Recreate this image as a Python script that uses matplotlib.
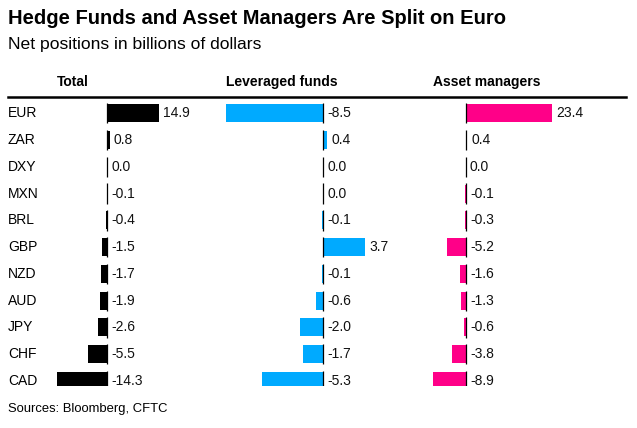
import matplotlib
matplotlib.use("Agg")
import matplotlib.pyplot as plt

plt.rcParams["font.family"] = ["Liberation Sans", "DejaVu Sans"]

# data
currencies = ["EUR", "ZAR", "DXY", "MXN", "BRL", "GBP", "NZD", "AUD", "JPY", "CHF", "CAD"]
total = [14.9, 0.8, 0.0, -0.1, -0.4, -1.5, -1.7, -1.9, -2.6, -5.5, -14.3]
leveraged = [-8.5, 0.4, 0.0, 0.0, -0.1, 3.7, -0.1, -0.6, -2.0, -1.7, -5.3]
asset_mgrs = [23.4, 0.4, 0.0, -0.1, -0.3, -5.2, -1.6, -1.3, -0.6, -3.8, -8.9]

W, H = 637, 428
fig = plt.figure(figsize=(W / 100, H / 100), dpi=100)

row_px = 26.77
first_center = 113.3
top_px = first_center - 0.5 * row_px
bottom_px = 386
ybottom = (bottom_px - first_center) / row_px

# panels: (title, values, colour, px of min bar end, px of max bar end, right edge px)
panels = [
    ("Total", total, "#000000", 57, 159, 215),
    ("Leveraged funds", leveraged, "#00aaff", 226, 365, 420),
    ("Asset managers", asset_mgrs, "#ff0088", 433, 552, 626),
]

rows = list(range(len(currencies)))

for name, vals, col, lpx, mpx, rpx in panels:
    vmin, vmax = min(vals), max(vals)
    scale = (mpx - lpx) / (vmax - vmin)
    ax = fig.add_axes([lpx / W, 1 - bottom_px / H, (rpx - lpx) / W, (bottom_px - top_px) / H])
    ax.set_xlim(vmin, vmin + (rpx - lpx) / scale)
    ax.set_ylim(ybottom, -0.5)
    ax.axis("off")
    ax.barh(rows, vals, height=0.67, color=col, zorder=2)
    ax.vlines([0] * len(rows), [r - 0.38 for r in rows], [r + 0.38 for r in rows],
              color="black", lw=0.9, zorder=3)
    for r, v in zip(rows, vals):
        ax.annotate(f"{v:.1f}", (max(v, 0), r), xytext=(3, 0), textcoords="offset points",
                    va="center", ha="left", fontsize=10, color="#111111", annotation_clip=False)
    fig.text(lpx / W, 1 - 82 / H, name, fontsize=10, fontweight="bold", va="center", ha="left")

for r, c in zip(rows, currencies):
    fig.text(8 / W, 1 - (first_center + r * row_px) / H, c, fontsize=10, va="center", ha="left")

fig.add_artist(plt.Line2D([8 / W, 626 / W], [1 - 97 / H, 1 - 97 / H], color="black", lw=1.8))

fig.text(8 / W, 1 - 18 / H, "Hedge Funds and Asset Managers Are Split on Euro",
         fontsize=14.5, fontweight="bold", va="center", ha="left")
fig.text(8 / W, 1 - 45 / H, "Net positions in billions of dollars", fontsize=12.6, va="center", ha="left")
fig.text(8 / W, 1 - 409 / H, "Sources: Bloomberg, CFTC", fontsize=9.4, va="center", ha="left")

fig.savefig("out.png", dpi=100)
